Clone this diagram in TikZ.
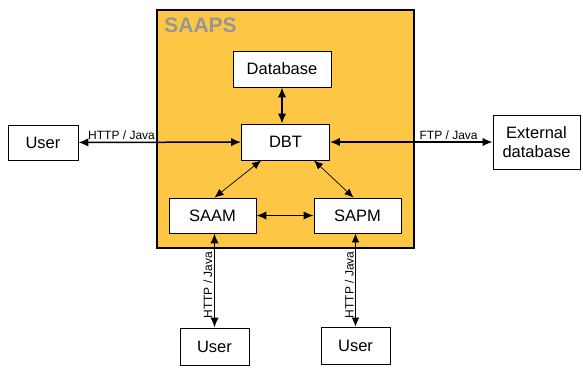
\documentclass[tikz,border=0pt]{standalone}
\usepackage{fontspec}
\setmainfont{Liberation Sans}
\usetikzlibrary{arrows.meta}
\definecolor{saapsyellow}{RGB}{253,199,69}
\definecolor{saapsgray}{RGB}{150,150,150}
\tikzset{
	box/.style={draw, fill=white, line width=0.9pt, inner sep=0pt, align=center, font=\fontsize{16.5}{19}\selectfont},
	link/.style={{Latex[length=10pt,width=8.5pt]}-{Latex[length=10pt,width=8.5pt]}, line width=1.5pt},
	thinlink/.style={{Latex[length=9pt,width=7.5pt]}-{Latex[length=9pt,width=7.5pt]}, line width=0.7pt},
	proto/.style={font=\fontsize{12}{14}\selectfont, inner sep=1.5pt}}
\tikzset{every picture/.style={line width=0.75pt}}

\begin{document}
\begin{tikzpicture}[x=1pt,y=1pt,yscale=-1]
	\useasboundingbox (0,0) rectangle (583,367);

	%Shape: SAAPS frame
	\draw [fill=saapsyellow, line width=2pt] (157,10) rectangle (414,248);
	% Text Node
	\draw (164,25.5) node [anchor=west, inner sep=0pt, text=saapsgray, font=\fontsize{21}{24}\selectfont\bfseries] {SAAPS};

	% Boxes
	\node [box, minimum width=98, minimum height=36] (db) at (282,69) {Database};
	\node [box, minimum width=88, minimum height=36] (dbt) at (285.5,142) {DBT};
	\node [box, minimum width=87, minimum height=35] (saam) at (212.5,215.5) {SAAM};
	\node [box, minimum width=87, minimum height=35] (sapm) at (357.5,215.5) {SAPM};
	\node [box, minimum width=70, minimum height=35] (userl) at (43,142.5) {User};
	\node [box, minimum width=87, minimum height=54] (extdb) at (536.5,142) {External\\database};
	\node [box, minimum width=69, minimum height=37] (usera) at (214.5,346.5) {User};
	\node [box, minimum width=69, minimum height=37] (userb) at (355.5,345.5) {User};

	% Connectors
	\draw [link] (db) -- (db.south |- dbt.north);
	\draw [link] (userl) -- node [proto, above, pos=0.265] {HTTP / Java} (dbt);
	\draw [link] (dbt) -- node [proto, above, pos=0.73] {FTP / Java} (extdb);
	\draw [thinlink] ([xshift=20pt]dbt.south west) -- ([xshift=2pt]saam.north);
	\draw [thinlink] ([xshift=-16pt]dbt.south east) -- ([xshift=-4pt]sapm.north);
	\draw [link] (saam) -- (sapm);
	\draw [link] (saam.south -| usera.north) -- node [proto, above, rotate=90, pos=0.55] {HTTP / Java} (usera);
	\draw [thinlink] (sapm.south -| userb.north) -- node [proto, above, rotate=90, pos=0.55] {HTTP / Java} (userb);

\end{tikzpicture}
\end{document}
